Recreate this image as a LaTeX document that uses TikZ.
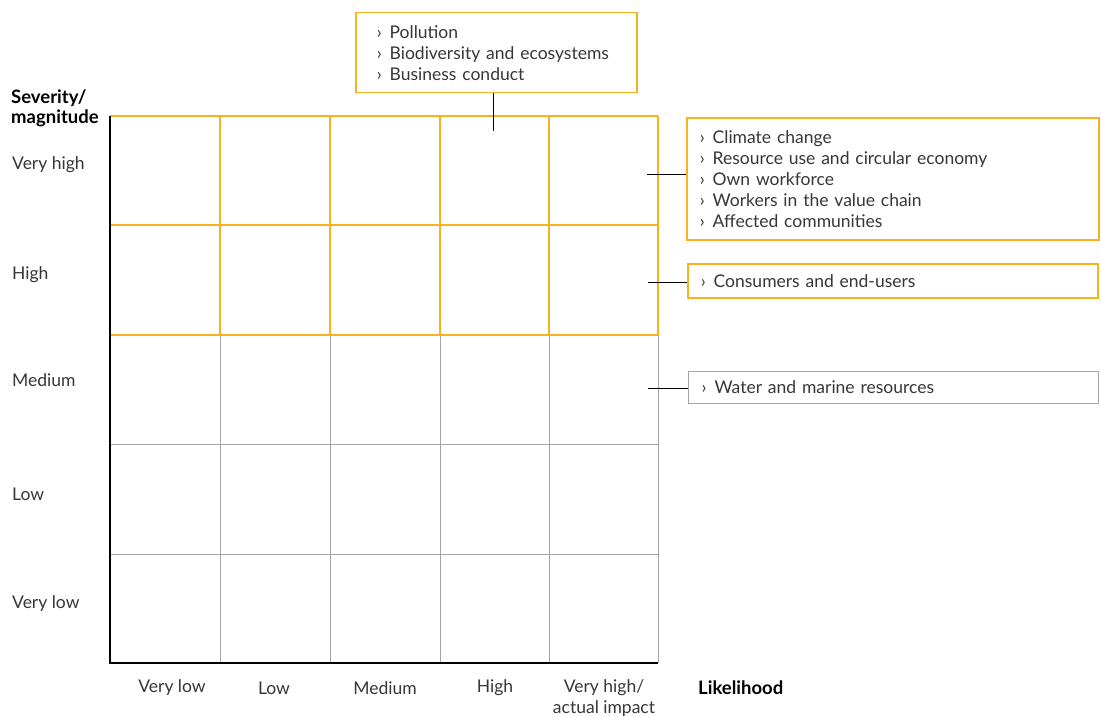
\documentclass[tikz,border=0pt]{standalone}
\usepackage{fontspec}
\setmainfont{Lato}
\definecolor{eyorange}{RGB}{251,176,30}
\definecolor{gridgray}{RGB}{165,165,165}
\definecolor{txt}{RGB}{55,55,55}
\newcommand{\bul}{›\hspace{8pt}}
\tikzset{
  lbl/.style={font=\fontsize{17.5}{21}\selectfont, text=txt, inner sep=0pt},
  axislbl/.style={font=\fontsize{18.5}{20}\selectfont\bfseries, text=black, inner sep=0pt, align=left},
  obox/.style={draw=eyorange, line width=1.5pt, font=\fontsize{17.5}{21}\selectfont, text=txt, align=left, anchor=north west, inner ysep=0pt},
  gbox/.style={obox, draw=gridgray, line width=1.2pt},
  conn/.style={draw=black, line width=1pt},
  ogrid/.style={draw=eyorange, line width=1.5pt},
  ggrid/.style={draw=gridgray, line width=1pt},
  axis/.style={draw=black, line width=2.5pt}
}
\begin{document}
\begin{tikzpicture}[x=1pt,y=-1pt]
\path[use as bounding box, fill=white] (0,0) rectangle (1101,717);
% gray part of grid
\foreach \x in {220,330,440,549,658} \draw[ggrid] (\x,335) -- (\x,663);
\foreach \y in {444,554} \draw[ggrid] (110,\y) -- (658,\y);
% orange part of grid
\foreach \x in {220,330,440,549,658} \draw[ogrid] (\x,116) -- (\x,335);
\foreach \y in {116,225,335} \draw[ogrid] (110,\y) -- (658,\y);
% axes
\draw[axis] (110,116) -- (110,663) -- (658,663);
% axis titles
\node[axislbl, anchor=west] (sev) at (11,108) {Severity/\\magnitude};
\node[axislbl, anchor=west] (lik) at (698,688) {Likelihood};
% row labels
\node[lbl, anchor=west] (r1) at (12,165) {Very high};
\node[lbl, anchor=west] (r2) at (12,275) {High};
\node[lbl, anchor=west] (r3) at (12,380) {Medium};
\node[lbl, anchor=west] (r4) at (12,494) {Low};
\node[lbl, anchor=west] (r5) at (12,604) {Very low};
% column labels
\node[lbl] (c1) at (172,688) {Very low};
\node[lbl] (c2) at (274,688) {Low};
\node[lbl] (c3) at (385,688) {Medium};
\node[lbl] (c4) at (495,688) {High};
\node[lbl, align=center] (c5) at (604,698) {Very high/\\actual impact};
% boxes
\node[obox, inner xsep=21pt, text width=239pt, minimum height=80pt] (b1) at (355,12)
  {\bul Pollution\\\bul Biodiversity and ecosystems\\\bul Business conduct};
\node[obox, inner xsep=13pt, text width=386pt, minimum height=122pt] (b2) at (686,117)
  {\bul Climate change\\\bul Resource use and circular economy\\\bul Own workforce\\\bul Workers in the value chain\\\bul Affected communities};
\node[obox, inner xsep=13pt, text width=384pt, minimum height=34pt] (b3) at (687,263)
  {\bul Consumers and end-users};
\node[gbox, inner xsep=13pt, text width=384pt, minimum height=32pt] (b4) at (688,371)
  {\bul Water and marine resources};
% connector ends
\coordinate (e1) at (493,131);
\coordinate (e2) at (647,174);
\coordinate (e3) at (648,282);
\coordinate (e4) at (648,388);
\draw[conn] (b1.south -| e1) -- (e1);
\draw[conn] (b2.west |- e2) -- (e2);
\draw[conn] (b3.west |- e3) -- (e3);
\draw[conn] (b4.west |- e4) -- (e4);
\end{tikzpicture}
\end{document}
